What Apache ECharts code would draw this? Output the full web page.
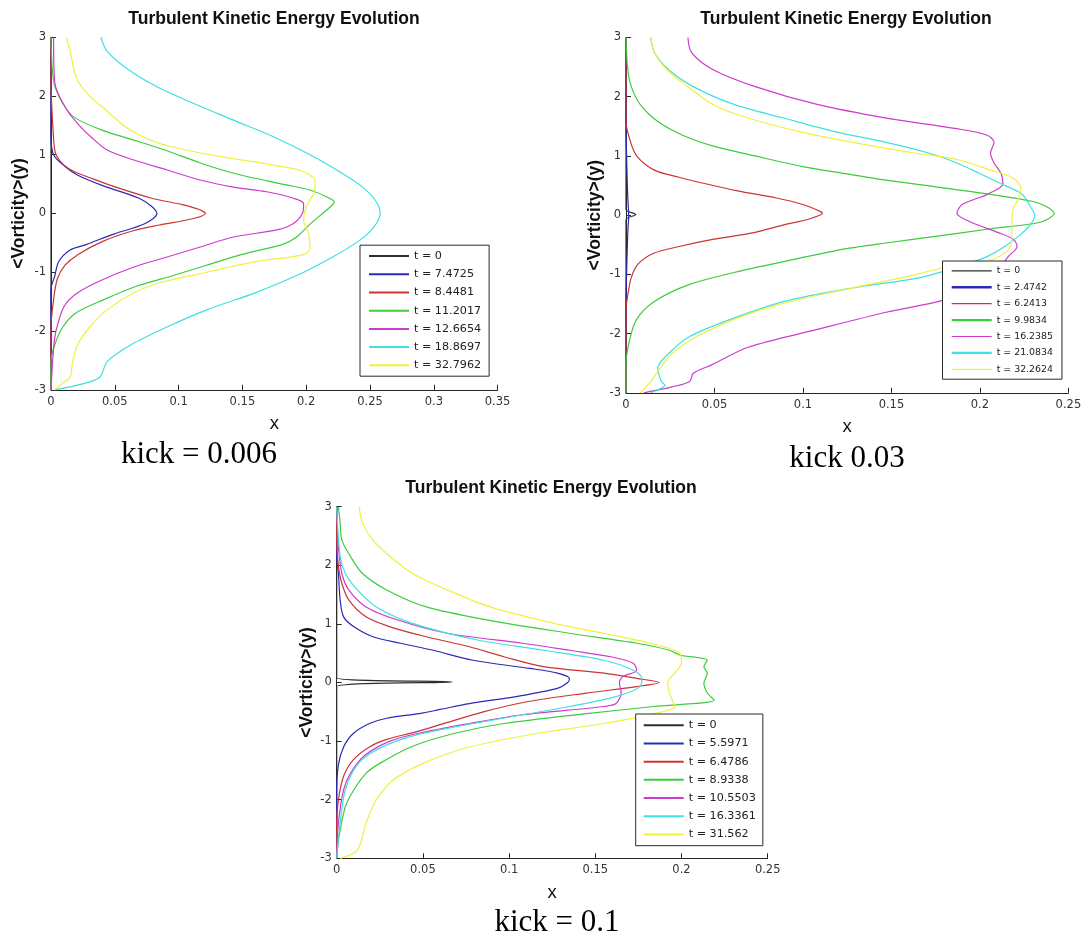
<!DOCTYPE html>
<html>
<head>
<meta charset="utf-8">
<script src="https://cdn.jsdelivr.net/npm/echarts@6/dist/echarts.min.js"></script>
<style>
  html, body { margin: 0; padding: 0; background: #ffffff; }
  #chart { width: 1088px; height: 939px; }
</style>
</head>
<body>
<div id="chart"></div>
<script>
// ---------- shared text ----------
const panelTitle = 'Turbulent Kinetic Energy Evolution';
const xName = 'x';
const yName = '<Vorticity>(y)';
const captions = ['kick = 0.006', 'kick 0.03', 'kick = 0.1'];

// ---------- axis ranges ----------
const yRange = [-3, 3];
const yStep = 1;
const xRanges = [[0, 0.35], [0, 0.25], [0, 0.25]];
const xStep = 0.05;

// ---------- kick = 0.006 : profiles as [x, y] ----------
const k1Names = ['t = 0', 't = 7.4725', 't = 8.4481', 't = 11.2017', 't = 12.6654', 't = 18.8697', 't = 32.7962'];
const k1_t0 = [[0, 3], [0, 0], [0, -3]];
const k1_t7_4725 = [[0, 3], [0, 1.75], [0, 1.3], [0.002, 1.0], [0.011, 0.8], [0.021, 0.65], [0.041, 0.47], [0.069, 0.26], [0.079, 0.12], [0.083, 0], [0.073, -0.18], [0.049, -0.35], [0.0275, -0.53], [0.015, -0.62], [0.006, -0.82], [0.003, -1.06], [0, -1.29], [0, -3]];
const k1_t8_4481 = [[0, 3], [0, 2.3], [0.002, 1.29], [0.004, 1.0], [0.014, 0.76], [0.033, 0.59], [0.052, 0.44], [0.079, 0.26], [0.103, 0.15], [0.117, 0.06], [0.121, 0], [0.111, -0.09], [0.084, -0.2], [0.065, -0.29], [0.041, -0.47], [0.021, -0.7], [0.011, -0.88], [0.005, -1.11], [0.002, -1.47], [0, -1.94], [0, -3]];
const k1_t11_2017 = [[0, 3], [0.001, 2.46], [0.003, 2.17], [0.009, 1.88], [0.018, 1.64], [0.041, 1.41], [0.068, 1.23], [0.092, 1.06], [0.117, 0.86], [0.144, 0.68], [0.181, 0.5], [0.203, 0.4], [0.219, 0.25], [0.222, 0.19], [0.216, 0.06], [0.203, -0.18], [0.192, -0.41], [0.181, -0.53], [0.149, -0.7], [0.122, -0.88], [0.095, -1.06], [0.068, -1.23], [0.041, -1.47], [0.019, -1.7], [0.009, -1.94], [0.003, -2.23], [0, -2.52], [0, -3]];
const k1_t12_6654 = [[0.002, 3], [0.003, 2.22], [0.0125, 1.76], [0.023, 1.48], [0.031, 1.31], [0.044, 1.08], [0.065, 0.91], [0.091, 0.74], [0.117, 0.57], [0.143, 0.45], [0.169, 0.37], [0.19, 0.26], [0.198, 0.17], [0.197, 0], [0.19, -0.17], [0.177, -0.28], [0.143, -0.4], [0.117, -0.57], [0.091, -0.74], [0.065, -0.91], [0.039, -1.14], [0.02, -1.36], [0.01, -1.59], [0.004, -1.99], [0.002, -2.3], [0, -3]];
const k1_t18_8697 = [[0.039, 3], [0.044, 2.76], [0.06, 2.46], [0.082, 2.17], [0.111, 1.88], [0.144, 1.58], [0.176, 1.29], [0.203, 1.0], [0.227, 0.7], [0.243, 0.47], [0.254, 0.23], [0.258, 0], [0.253, -0.23], [0.241, -0.47], [0.219, -0.76], [0.192, -1.06], [0.16, -1.35], [0.122, -1.64], [0.09, -1.94], [0.063, -2.23], [0.044, -2.52], [0.038, -2.79], [0.019, -2.93], [0.003, -3]];
const k1_t32_7962 = [[0.012, 3], [0.015, 2.76], [0.02, 2.3], [0.03, 2.0], [0.041, 1.8], [0.06, 1.45], [0.084, 1.2], [0.117, 1.03], [0.144, 0.93], [0.175, 0.82], [0.197, 0.72], [0.207, 0.55], [0.206, 0.35], [0.2, 0.12], [0.198, -0.12], [0.202, -0.35], [0.203, -0.59], [0.198, -0.7], [0.16, -0.82], [0.122, -1.0], [0.087, -1.17], [0.065, -1.35], [0.044, -1.64], [0.03, -1.94], [0.021, -2.23], [0.017, -2.52], [0.015, -2.79], [0.01, -2.87], [0.003, -3]];

// ---------- kick 0.03 ----------
const k2Names = ['t = 0', 't = 2.4742', 't = 6.2413', 't = 9.9834', 't = 16.2385', 't = 21.0834', 't = 32.2624'];
const k2_t0 = [[0, 3], [0, 0.1], [0.0055, 0.01], [0, -0.08], [0, -3]];
const k2_t2_4742 = [[0, 3], [0, 1.6], [0.0005, 0.8], [0.001, 0.3], [0.0015, 0], [0.001, -0.3], [0.0005, -0.8], [0, -1.5], [0, -3]];
const k2_t6_2413 = [[0, 3], [0, 1.58], [0.002, 1.29], [0.006, 1.0], [0.016, 0.76], [0.03, 0.64], [0.045, 0.53], [0.063, 0.41], [0.085, 0.29], [0.1, 0.18], [0.11, 0.06], [0.111, 0.03], [0.104, -0.06], [0.087, -0.18], [0.073, -0.29], [0.049, -0.41], [0.03, -0.53], [0.016, -0.64], [0.007, -0.82], [0.003, -1.05], [0.001, -1.35], [0, -1.6], [0, -3]];
const k2_t9_9834 = [[0, 3], [0.001, 2.46], [0.003, 2.17], [0.008, 1.87], [0.018, 1.58], [0.032, 1.35], [0.049, 1.17], [0.073, 1.0], [0.1, 0.82], [0.124, 0.7], [0.147, 0.59], [0.177, 0.47], [0.206, 0.35], [0.23, 0.23], [0.239, 0.12], [0.242, 0.03], [0.234, -0.12], [0.206, -0.23], [0.177, -0.35], [0.147, -0.47], [0.12, -0.59], [0.093, -0.76], [0.065, -0.94], [0.036, -1.17], [0.016, -1.46], [0.006, -1.76], [0.002, -2.11], [0, -2.52], [0, -3]];
const k2_t16_2385 = [[0.035, 3], [0.037, 2.75], [0.049, 2.46], [0.073, 2.17], [0.108, 1.87], [0.147, 1.64], [0.187, 1.46], [0.204, 1.35], [0.208, 1.23], [0.206, 1.05], [0.208, 0.88], [0.212, 0.7], [0.213, 0.53], [0.204, 0.35], [0.19, 0.18], [0.187, 0.03], [0.195, -0.12], [0.21, -0.29], [0.219, -0.41], [0.221, -0.53], [0.216, -0.7], [0.21, -0.94], [0.2, -1.2], [0.179, -1.44], [0.147, -1.64], [0.108, -1.93], [0.069, -2.23], [0.049, -2.52], [0.038, -2.67], [0.036, -2.81], [0.026, -2.9], [0.01, -3]];
const k2_t21_0834 = [[0.014, 3], [0.016, 2.75], [0.024, 2.46], [0.038, 2.17], [0.061, 1.87], [0.089, 1.64], [0.118, 1.41], [0.147, 1.23], [0.171, 1.05], [0.187, 0.88], [0.2, 0.7], [0.212, 0.53], [0.224, 0.35], [0.229, 0.12], [0.231, 0], [0.228, -0.18], [0.222, -0.35], [0.214, -0.53], [0.204, -0.7], [0.19, -0.85], [0.167, -1.05], [0.128, -1.23], [0.089, -1.46], [0.059, -1.76], [0.036, -2.05], [0.024, -2.34], [0.018, -2.58], [0.02, -2.81], [0.022, -2.87], [0.014, -3]];
const k2_t32_2624 = [[0.014, 3], [0.016, 2.75], [0.023, 2.46], [0.035, 2.17], [0.049, 1.87], [0.069, 1.64], [0.098, 1.41], [0.128, 1.23], [0.163, 1.05], [0.187, 0.94], [0.206, 0.76], [0.218, 0.64], [0.223, 0.47], [0.222, 0.29], [0.219, 0.12], [0.218, -0.12], [0.218, -0.35], [0.216, -0.59], [0.202, -0.8], [0.181, -0.88], [0.157, -1.05], [0.118, -1.29], [0.085, -1.52], [0.061, -1.76], [0.04, -2.05], [0.026, -2.34], [0.018, -2.64], [0.014, -2.81], [0.008, -3]];

// ---------- kick = 0.1 ----------
const k3Names = ['t = 0', 't = 5.5971', 't = 6.4786', 't = 8.9338', 't = 10.5503', 't = 16.3361', 't = 31.562'];
const k3_t0 = [[0, 3], [0, 0.08], [0.067, 0.01], [0, -0.07], [0, -3]];
const k3_t5_5971 = [[0, 3], [0, 2.15], [0.001, 1.86], [0.002, 1.41], [0.004, 1.12], [0.01, 0.95], [0.021, 0.78], [0.037, 0.67], [0.056, 0.55], [0.079, 0.38], [0.112, 0.24], [0.128, 0.16], [0.135, 0.07], [0.134, 0], [0.128, -0.1], [0.104, -0.24], [0.077, -0.36], [0.06, -0.46], [0.048, -0.53], [0.029, -0.61], [0.019, -0.7], [0.0096, -0.87], [0.004, -1.1], [0.001, -1.4], [0, -1.84], [0, -3]];
const k3_t6_4786 = [[0, 3], [0, 2.43], [0.001, 1.98], [0.003, 1.69], [0.007, 1.41], [0.017, 1.12], [0.031, 0.95], [0.052, 0.78], [0.077, 0.61], [0.097, 0.44], [0.12, 0.27], [0.155, 0.16], [0.174, 0.07], [0.187, 0], [0.174, -0.07], [0.145, -0.18], [0.112, -0.32], [0.085, -0.5], [0.06, -0.72], [0.045, -0.85], [0.029, -0.97], [0.019, -1.1], [0.0096, -1.32], [0.004, -1.6], [0.001, -2.0], [0, -2.4], [0, -3]];
const k3_t8_9338 = [[0.001, 3], [0.002, 2.72], [0.003, 2.43], [0.008, 2.15], [0.015, 1.86], [0.029, 1.58], [0.052, 1.29], [0.087, 1.07], [0.135, 0.84], [0.174, 0.67], [0.193, 0.55], [0.199, 0.47], [0.215, 0.38], [0.213, 0.27], [0.215, 0.16], [0.213, -0.01], [0.215, -0.18], [0.219, -0.3], [0.184, -0.41], [0.145, -0.53], [0.097, -0.7], [0.068, -0.87], [0.043, -1.1], [0.025, -1.38], [0.017, -1.55], [0.01, -1.83], [0.005, -2.12], [0.001, -2.69], [0, -3]];
const k3_t10_5503 = [[0, 3], [0.001, 2.32], [0.003, 1.86], [0.007, 1.58], [0.017, 1.29], [0.035, 1.07], [0.064, 0.84], [0.108, 0.67], [0.135, 0.55], [0.159, 0.44], [0.172, 0.33], [0.174, 0.21], [0.166, 0.1], [0.164, -0.01], [0.165, -0.18], [0.162, -0.36], [0.155, -0.41], [0.108, -0.55], [0.077, -0.7], [0.05, -0.85], [0.031, -1.0], [0.016, -1.25], [0.008, -1.55], [0.004, -1.83], [0.001, -2.4], [0, -3]];
const k3_t16_3361 = [[0, 3], [0.002, 2.15], [0.005, 1.86], [0.012, 1.58], [0.023, 1.29], [0.044, 1.01], [0.081, 0.73], [0.12, 0.55], [0.155, 0.38], [0.172, 0.21], [0.177, 0.07], [0.176, -0.07], [0.162, -0.24], [0.135, -0.41], [0.108, -0.55], [0.07, -0.75], [0.043, -0.92], [0.023, -1.15], [0.012, -1.4], [0.005, -1.83], [0.002, -2.4], [0, -3]];
const k3_t31_562 = [[0.013, 3], [0.015, 2.72], [0.021, 2.43], [0.031, 2.15], [0.044, 1.86], [0.064, 1.58], [0.089, 1.29], [0.126, 1.01], [0.155, 0.84], [0.182, 0.67], [0.199, 0.5], [0.2, 0.33], [0.196, 0.16], [0.192, -0.01], [0.193, -0.18], [0.196, -0.41], [0.184, -0.53], [0.155, -0.7], [0.116, -0.87], [0.077, -1.1], [0.05, -1.38], [0.033, -1.66], [0.023, -2.0], [0.017, -2.4], [0.012, -2.86], [0.002, -3]];

// line colours, one per time step (t = 0 first)
const lineColors = ['#2e2e2e', '#2a2ab4', '#cc3434', '#3ccc3c', '#cc3ccc', '#3ee0e0', '#f0f03c'];
// the kick 0.03 legend draws a few of its samples with a heavier stroke
const k2LegendWidths = [1.2, 2.4, 1.2, 2.4, 1.2, 2.4, 1.2];

const profiles = [
  [k1_t0, k1_t7_4725, k1_t8_4481, k1_t11_2017, k1_t12_6654, k1_t18_8697, k1_t32_7962],
  [k2_t0, k2_t2_4742, k2_t6_2413, k2_t9_9834, k2_t16_2385, k2_t21_0834, k2_t32_2624],
  [k3_t0, k3_t5_5971, k3_t6_4786, k3_t8_9338, k3_t10_5503, k3_t16_3361, k3_t31_562]
];
const names = [k1Names, k2Names, k3Names];

// ---------- layout of the three panels (pixels) ----------
const panels = [
  { grid: { left: 51, top: 37.2, width: 446.6, height: 352.6 },
    legend: { left: 360, top: 245.2, padding: [5.4, 8, 5.4, 8], itemGap: 7.2, itemHeight: 12, fontSize: 11.2 },
    yGap: 23, xGap: 25, title: [274, 19], caption: [199, 455] },
  { grid: { left: 626, top: 37.5, width: 442.4, height: 355.3 },
    legend: { left: 942.5, top: 261, padding: [5.4, 9, 5.4, 8], itemGap: 7.4, itemHeight: 10, fontSize: 9.4 },
    yGap: 21.5, xGap: 25, title: [846, 19], caption: [847, 459] },
  { grid: { left: 336.7, top: 506.7, width: 431, height: 351.6 },
    legend: { left: 635.7, top: 714, padding: [5.75, 7, 5.75, 7], itemGap: 7.2, itemHeight: 12, fontSize: 11.2 },
    yGap: 21, xGap: 25, title: [551, 488], caption: [557, 923] }
];

const labelFont = 'DejaVu Sans';
const nameFont = 'Liberation Sans, Arial, sans-serif';
const axisColor = '#262626';

const option = {
  animation: false,
  backgroundColor: '#ffffff',
  grid: [], xAxis: [], yAxis: [], series: [], legend: [], graphic: []
};

panels.forEach((p, i) => {
  option.grid.push(Object.assign({ outerBoundsMode: 'none', containLabel: false }, p.grid));
  option.xAxis.push({
    gridIndex: i, type: 'value', min: xRanges[i][0], max: xRanges[i][1], interval: xStep,
    axisLine: { show: true, onZero: false, lineStyle: { color: axisColor, width: 1 } },
    axisTick: { show: true, inside: true, length: 5, lineStyle: { color: axisColor } },
    axisLabel: { margin: 6, fontFamily: labelFont, fontSize: 11.5, color: '#333' },
    splitLine: { show: false },
    name: xName, nameLocation: 'middle', nameGap: p.xGap,
    nameTextStyle: { fontFamily: nameFont, fontSize: 18.5, color: '#111' }
  });
  option.yAxis.push({
    gridIndex: i, type: 'value', min: yRange[0], max: yRange[1], interval: yStep,
    axisLine: { show: true, onZero: false, lineStyle: { color: axisColor, width: 1 } },
    axisTick: { show: true, inside: true, length: 5, lineStyle: { color: axisColor } },
    axisLabel: { margin: 5, fontFamily: labelFont, fontSize: 11.5, color: '#333' },
    splitLine: { show: false },
    name: yName, nameLocation: 'middle', nameRotate: 90, nameGap: p.yGap,
    nameTextStyle: { fontFamily: nameFont, fontSize: 17.5, fontWeight: 'bold', color: '#111' }
  });
  profiles[i].forEach((data, k) => {
    option.series.push({
      type: 'line', name: names[i][k], xAxisIndex: i, yAxisIndex: i, data: data,
      symbol: 'none', showSymbol: false, smooth: 0.3, clip: true,
      lineStyle: { color: lineColors[k], width: 1.2 },
      itemStyle: { color: lineColors[k] }
    });
  });
  const legendData = names[i].map((n, k) =>
    i === 1 ? { name: n, lineStyle: { width: k2LegendWidths[k] } } : { name: n });
  option.legend.push({
    data: legendData, orient: 'vertical', left: p.legend.left, top: p.legend.top,
    padding: p.legend.padding, itemGap: p.legend.itemGap, itemWidth: 40, itemHeight: p.legend.itemHeight,
    backgroundColor: '#ffffff', borderColor: '#2a2a2a', borderWidth: 1, borderRadius: 0,
    selectedMode: false, itemStyle: { opacity: 0 },
    textStyle: { fontFamily: labelFont, fontSize: p.legend.fontSize, color: '#222' }
  });
  option.graphic.push({
    type: 'text', x: p.title[0], y: p.title[1], z: 10,
    style: { text: panelTitle, textAlign: 'center', textVerticalAlign: 'middle',
             font: 'bold 17.5px ' + nameFont, fill: '#111' }
  });
  option.graphic.push({
    type: 'text', x: p.caption[0], y: p.caption[1], z: 10,
    style: { text: captions[i], textAlign: 'center', textVerticalAlign: 'middle',
             font: '31px "Liberation Serif", "Times New Roman", serif', fill: '#000' }
  });
});

const chart = echarts.init(document.getElementById('chart'), null, { renderer: 'canvas' });
chart.setOption(option);
</script>
</body>
</html>
